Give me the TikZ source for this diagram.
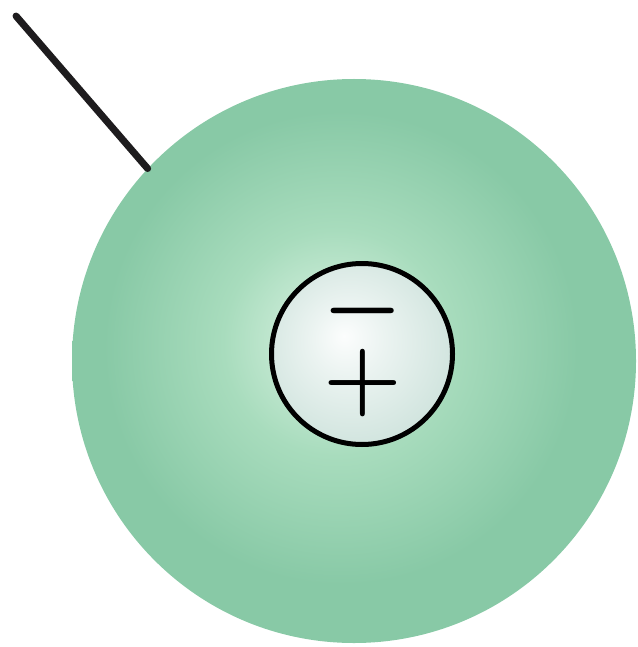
\documentclass[tikz,border=0pt]{standalone}
\usepackage{fix-cm}
\definecolor{ballEdge}{RGB}{136,201,166}
\definecolor{ballMid}{RGB}{168,220,189}
\definecolor{ballCenter}{RGB}{220,243,228}
\definecolor{coreHi}{RGB}{252,253,253}
\definecolor{coreLo}{RGB}{210,229,223}
\definecolor{rod}{RGB}{30,28,30}
\pgfdeclareradialshading{ball}{\pgfpoint{-2bp}{2bp}}{%
  color(0bp)=(ballCenter); color(10bp)=(ballMid); color(21bp)=(ballEdge);
  color(25bp)=(ballEdge); color(50bp)=(ballEdge)}
\pgfdeclareradialshading{core}{\pgfpoint{-5bp}{5bp}}{%
  color(0bp)=(coreHi); color(10bp)=(coreHi!60!coreLo); color(27bp)=(coreLo);
  color(50bp)=(coreLo)}
\tikzset{
  sphere/.style={circle, inner sep=0pt, shade, shading=ball},
  kernel/.style={circle, inner sep=0pt, draw=black, line width=5pt, shade, shading=core},
  charge/.style={inner sep=0pt, font=\fontsize{90}{90}\selectfont\boldmath},
  stem/.style={draw=rod, line width=7pt, line cap=round}
}
\begin{document}
\begin{tikzpicture}[x=1pt,y=-1pt]
  \useasboundingbox (0,0) rectangle (637,647);
  % outer sphere and the inner charged core
  \node[sphere, minimum size=564pt] (ball) at (354,361) {};
  \node[kernel, minimum size=181pt] (core) at (362,354) {};
  \node[charge] (minus) at (363,311) {$-$};
  \node[charge] (plus) at (363,383) {$+$};
  % supporting rod
  \coordinate (tip) at (16,16);
  \draw[stem] (tip) -- (ball.137);
\end{tikzpicture}
\end{document}
